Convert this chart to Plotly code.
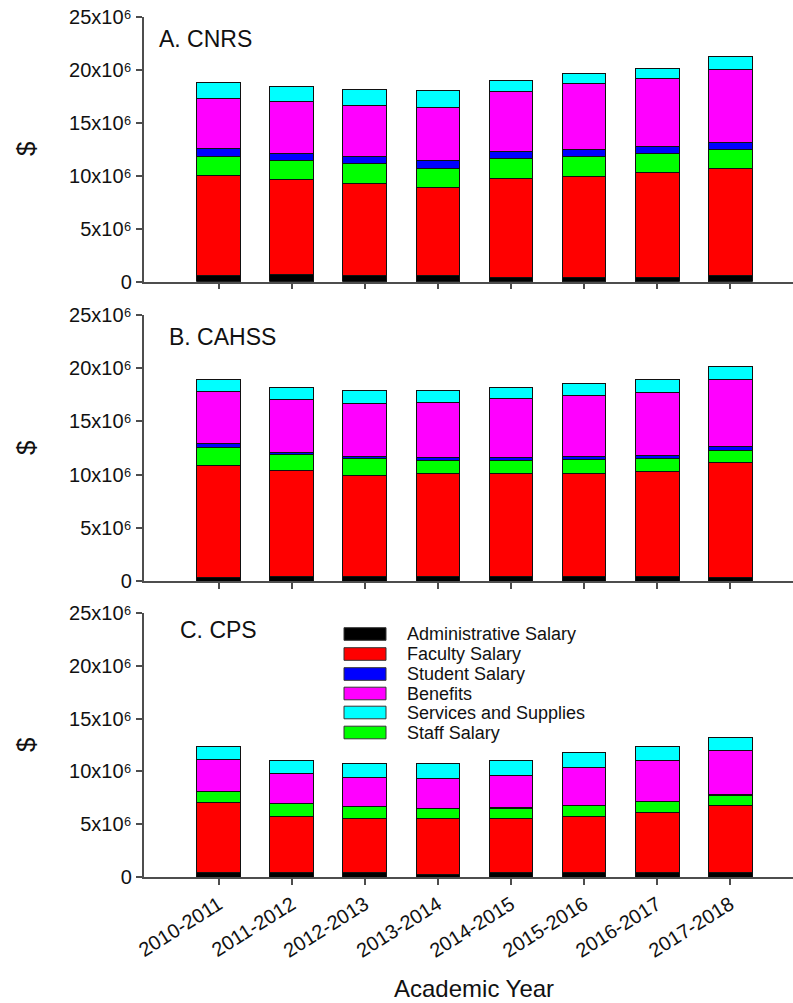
import plotly.graph_objects as go

# ---------------- data (values in dollars) ----------------
years = ["2010-2011", "2011-2012", "2012-2013", "2013-2014",
         "2014-2015", "2015-2016", "2016-2017", "2017-2018"]

M = 1e6
# A. CNRS
cnrs_admin    = [0.60, 0.66, 0.60, 0.54, 0.44, 0.44, 0.44, 0.54]
cnrs_faculty  = [9.40, 8.96, 8.70, 8.38, 9.33, 9.52, 9.90, 10.12]
cnrs_staff    = [1.76, 1.76, 1.86, 1.77, 1.80, 1.83, 1.70, 1.79]
cnrs_student  = [0.82, 0.72, 0.69, 0.75, 0.66, 0.69, 0.70, 0.70]
cnrs_benefits = [4.66, 4.92, 4.80, 5.02, 5.74, 6.18, 6.46, 6.81]
cnrs_services = [1.52, 1.39, 1.51, 1.54, 1.04, 1.01, 0.88, 1.29]
# B. CAHSS
cahss_admin    = [0.31, 0.38, 0.38, 0.38, 0.38, 0.38, 0.38, 0.31]
cahss_faculty  = [10.56, 9.96, 9.55, 9.71, 9.68, 9.77, 9.90, 10.81]
cahss_staff    = [1.69, 1.56, 1.57, 1.28, 1.28, 1.25, 1.22, 1.16]
cahss_student  = [0.35, 0.22, 0.22, 0.22, 0.31, 0.32, 0.34, 0.35]
cahss_benefits = [4.88, 4.98, 4.98, 5.20, 5.49, 5.70, 5.89, 6.35]
cahss_services = [1.16, 1.07, 1.19, 1.10, 1.09, 1.13, 1.22, 1.20]
# C. CPS
cps_admin    = [0.41, 0.41, 0.41, 0.31, 0.41, 0.41, 0.41, 0.41]
cps_faculty  = [6.67, 5.29, 5.16, 5.20, 5.10, 5.35, 5.73, 6.36]
cps_staff    = [1.01, 1.29, 1.11, 0.98, 1.01, 1.04, 1.01, 0.98]
cps_student  = [0.03, 0.03, 0.03, 0.03, 0.03, 0.03, 0.03, 0.06]
cps_benefits = [2.99, 2.80, 2.70, 2.80, 3.08, 3.53, 3.84, 4.19]
cps_services = [1.26, 1.23, 1.30, 1.39, 1.39, 1.42, 1.35, 1.22]

panel_titles = ["A. CNRS", "B. CAHSS", "C. CPS"]
y_tickvals = [0, 5, 10, 15, 20, 25]
y_ticktext = ["0", "5x10\u2076", "10x10\u2076", "15x10\u2076", "20x10\u2076", "25x10\u2076"]

# stacking order (bottom -> top)
stack_names = ["Administrative Salary", "Faculty Salary", "Staff Salary",
               "Student Salary", "Benefits", "Services and Supplies"]
stack_colors = ["#000000", "#FF0000", "#00FF00", "#0000FF", "#FF00FF", "#00FFFF"]
# legend order as shown
legend_names = ["Administrative Salary", "Faculty Salary", "Student Salary",
                "Benefits", "Services and Supplies", "Staff Salary"]

panels = [
    [cnrs_admin, cnrs_faculty, cnrs_staff, cnrs_student, cnrs_benefits, cnrs_services],
    [cahss_admin, cahss_faculty, cahss_staff, cahss_student, cahss_benefits, cahss_services],
    [cps_admin, cps_faculty, cps_staff, cps_student, cps_benefits, cps_services],
]

# ---------------- layout helpers (pixel -> paper) ----------------
W, H = 793, 1003
def px(x):
    return x / W
def py(y):
    return 1 - y / H

FONT = "Liberation Sans, Arial, sans-serif"
AXC = "#4d4d4d"

# panel vertical extents in pixels: (top = 25x10^6, bottom = 0)
panel_px = [(16.5, 281.7), (315.0, 581.0), (612.7, 877.3)]
x_left_px = 143.5

fig = go.Figure()
color_of = dict(zip(stack_names, stack_colors))

for i, series in enumerate(panels):
    ax = "" if i == 0 else str(i + 1)
    for name, vals in zip(stack_names, series):
        fig.add_trace(go.Bar(
            x=years, y=[v * M for v in vals], name=name,
            marker=dict(color=color_of[name], line=dict(color="#111111", width=1)),
            xaxis="x" + ax, yaxis="y" + ax, showlegend=False,
            hovertemplate=name + "<br>%{x}: %{y:,.0f}<extra></extra>",
        ))

layout = dict(
    width=W, height=H,
    margin=dict(l=0, r=0, t=0, b=0),
    barmode="stack", bargap=0.4,
    paper_bgcolor="white", plot_bgcolor="white",
    font=dict(family=FONT, color="#111111", size=20),
    showlegend=False,
    template="none",
)

for i in range(3):
    ax = "" if i == 0 else str(i + 1)
    top, bot = panel_px[i]
    layout["xaxis" + ax] = dict(
        domain=[px(x_left_px), 1.0], anchor="y" + ax,
        type="category", categoryorder="array", categoryarray=years,
        range=[-1.03, 7.86],
        showline=True, linecolor=AXC, linewidth=1.5,
        ticks="outside", ticklen=6, tickcolor=AXC, tickwidth=1.5,
        showgrid=False, zeroline=False,
        showticklabels=(i == 2), tickangle=-32,
        tickfont=dict(size=20, family=FONT, color="#111111"),
        automargin=False,
    )
    layout["yaxis" + ax] = dict(
        domain=[py(bot), py(top)], anchor="x" + ax,
        range=[0, 25 * M],
        tickvals=[v * M for v in y_tickvals], ticktext=y_ticktext,
        showline=True, linecolor=AXC, linewidth=1.5,
        ticks="outside", ticklen=6, tickcolor=AXC, tickwidth=1.5,
        showgrid=False, zeroline=False,
        tickfont=dict(size=20, family=FONT, color="#111111"),
        automargin=False,
    )

fig.update_layout(**layout)

annotations = []
shapes = []
# panel titles
title_pos = [(157, 39), (167, 337), (178, 630)]
for t, (x, y) in zip(panel_titles, title_pos):
    annotations.append(dict(text=t, x=px(x), y=py(y), xref="paper", yref="paper",
                            xanchor="left", yanchor="middle", showarrow=False,
                            font=dict(size=23, family=FONT, color="#111111")))
# y-axis labels "$"
for top, bot in panel_px:
    annotations.append(dict(text="$", x=px(26), y=py((top + bot) / 2),
                            xref="paper", yref="paper", textangle=-90,
                            xanchor="center", yanchor="middle", showarrow=False,
                            font=dict(size=26, family=FONT, color="#111111")))
# x-axis title
annotations.append(dict(text="Academic Year", x=px(474), y=py(988),
                        xref="paper", yref="paper", xanchor="center", yanchor="middle",
                        showarrow=False, font=dict(size=24, family=FONT, color="#111111")))

# legend (drawn in panel C)
row_y = [634, 654, 674, 693.5, 712.5, 732.5]
for name, y in zip(legend_names, row_y):
    shapes.append(dict(type="rect", xref="paper", yref="paper",
                       x0=px(344), x1=px(386), y0=py(y + 6.3), y1=py(y - 6.3),
                       fillcolor=color_of[name], line=dict(color="#333333", width=1)))
    annotations.append(dict(text=name, x=px(405), y=py(y), xref="paper", yref="paper",
                            xanchor="left", yanchor="middle", showarrow=False,
                            font=dict(size=18, family=FONT, color="#111111")))

fig.update_layout(annotations=annotations, shapes=shapes)
fig.write_html("out.html")
